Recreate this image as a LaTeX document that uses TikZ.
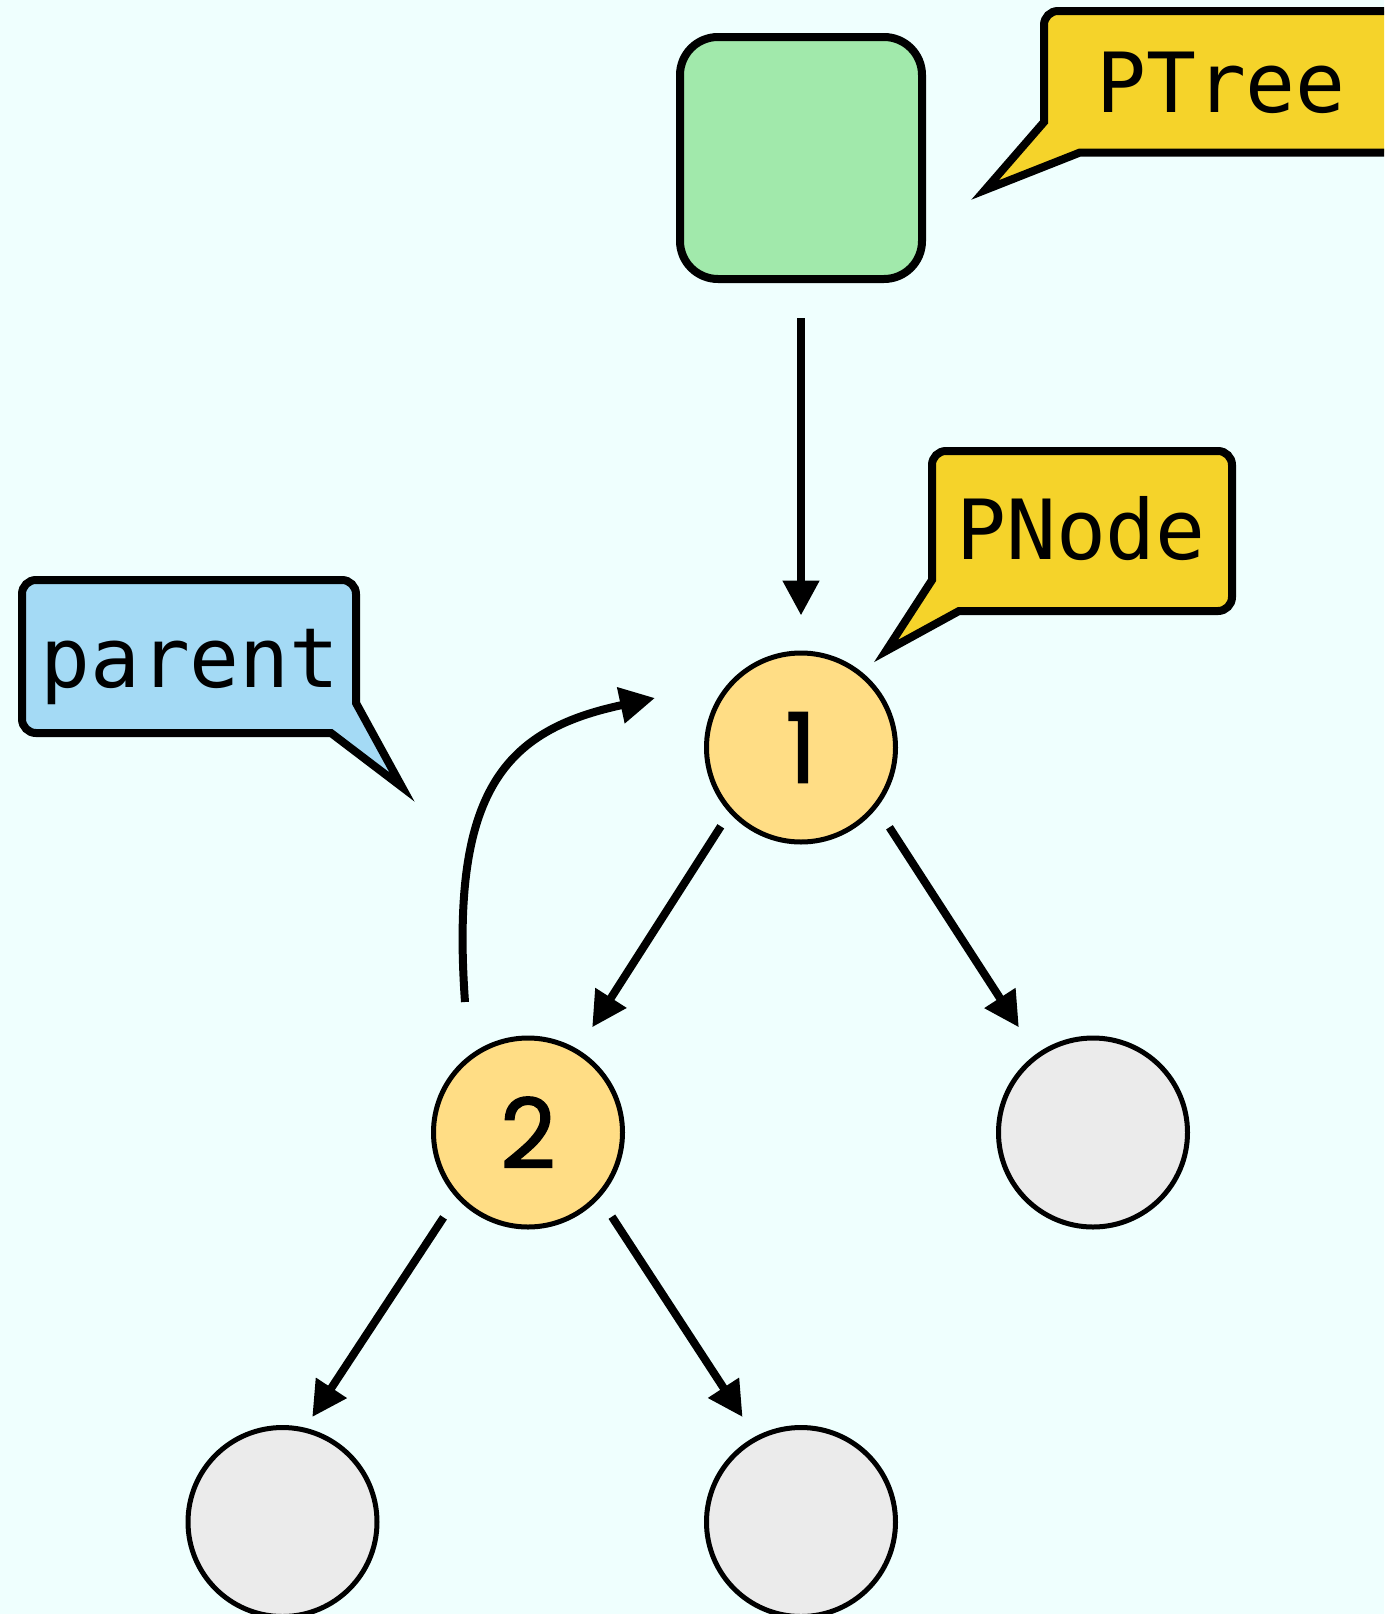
\documentclass[tikz,border=0pt]{standalone}
\usepackage{fontspec}
\newfontfamily\lblfont{DejaVu Sans Mono}
\newfontfamily\numfont{Poppins}[FakeBold=1.5]
\usetikzlibrary{arrows.meta,calc}
\definecolor{bgc}{RGB}{239,255,254}
\definecolor{boxgreen}{RGB}{161,233,171}
\definecolor{calloutyellow}{RGB}{245,211,42}
\definecolor{calloutblue}{RGB}{164,218,245}
\definecolor{nodeorange}{RGB}{255,221,133}
\definecolor{nodegray}{RGB}{235,235,235}
\tikzset{
  treebox/.style={draw=black, line width=8pt, fill=boxgreen, rounded corners=38pt,
    minimum width=242pt, minimum height=242pt, inner sep=0pt, outer sep=0pt},
  pnode/.style={circle, draw=black, line width=5pt, fill=nodeorange,
    minimum size=189pt, inner sep=0pt, outer sep=0pt,
    font=\numfont\fontsize{97}{97}\selectfont},
  leaf/.style={circle, draw=black, line width=5pt, fill=nodegray,
    minimum size=189pt, inner sep=0pt, outer sep=0pt},
  callout/.style={draw=black, line width=8pt, line join=miter},
  lbl/.style={inner sep=0pt, anchor=base, font=\lblfont\fontsize{83}{83}\selectfont},
  arr/.style={draw=black, line width=8pt, -{Triangle[length=35pt,width=35pt]}}
}
\begin{document}
\begin{tikzpicture}[x=1pt,y=-1pt]
\path[use as bounding box] (0,0) rectangle (1384,1614);
\fill[bgc] (0,0) rectangle (1384,1614);
\begin{scope}
\clip (0,0) rectangle (1384,1614);

% nodes
\node[treebox] (tree) at (801,158) {};
\node[pnode] (n1) at (801,747.5) {1};
\node[pnode] (n2) at (528,1132.5) {2};
\node[leaf] (n3) at (1093,1132.5) {};
\node[leaf] (n4) at (282.5,1522) {};
\node[leaf] (n5) at (801,1522) {};

% callout PTree
\draw[callout, fill=calloutyellow] (1044,122) -- (1044,25)
  arc[start angle=180, end angle=270, radius=14] -- (1430,11) -- (1430,152.5)
  -- (1080,152.5) -- (985,190) -- cycle;
\node[lbl] (ptreetxt) at (1221,112) {PTree};

% callout PNode
\draw[callout, fill=calloutyellow] (932,580) -- (932,465)
  arc[start angle=180, end angle=270, radius=14] -- (1218,451)
  arc[start angle=270, end angle=360, radius=14] -- (1232,597)
  arc[start angle=0, end angle=90, radius=14] -- (959,611) -- (886,651) -- cycle;
\node[lbl] (pnodetxt) at (1081,559) {PNode};

% callout parent
\draw[callout, fill=calloutblue] (22,594)
  arc[start angle=180, end angle=270, radius=14] -- (342,580)
  arc[start angle=270, end angle=360, radius=14] -- (356,703) -- (402,787)
  -- (331,733) -- (36,733) arc[start angle=90, end angle=180, radius=14] -- cycle;
\node[lbl] (parenttxt) at (190,687) {parent};

% connectors
\draw[arr, shorten <=39pt, shorten >=37.5pt] (tree.south) -- (n1.north);
\draw[arr, shorten <=18.5pt, shorten >=28.7pt] (n1.222) -- (n2.59);
\draw[arr, shorten <=25.7pt, shorten >=34.2pt] (n1.322) -- (n3.126);
\draw[arr, shorten <=25.9pt, shorten >=15.4pt] (n2.222) -- (n4.77);
\draw[arr, shorten <=25pt, shorten >=25.7pt] (n2.318) -- (n5.118);
\draw[arr] ($(n2.center)+(-63,-130.5)$) .. controls ($(n2.center)+(-78,-342.5)$)
  and ($(n1.center)+(-296,-17.5)$) .. ($(n1.center)+(-146,-49.5)$);
\end{scope}
\end{tikzpicture}
\end{document}
